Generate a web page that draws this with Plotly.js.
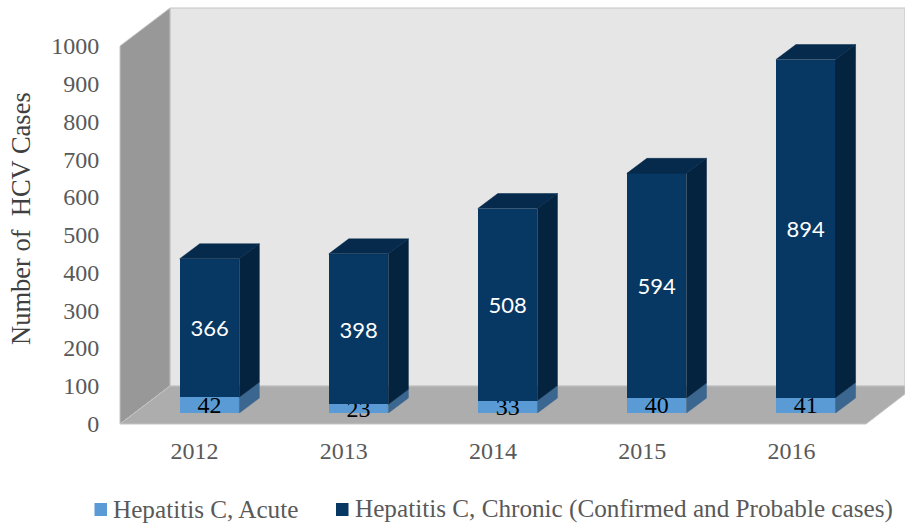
<!DOCTYPE html>
<html>
<head>
<meta charset="utf-8">
<script src="https://cdn.plot.ly/plotly-3.0.1.min.js"></script>
<style>html,body{margin:0;padding:0;background:#fff;}#chart{width:905px;height:525px;}</style>
</head>
<body>
<div id="chart"></div>
<script>
var years = [2012, 2013, 2014, 2015, 2016];
var acute = [42, 23, 33, 40, 41];
var chronic = [366, 398, 508, 594, 894];
var yTicks = [0, 100, 200, 300, 400, 500, 600, 700, 800, 900, 1000];
var seriesNames = ['Hepatitis C, Acute', 'Hepatitis C, Chronic (Confirmed and Probable cases)'];
var seriesColors = ['#5b9bd5', '#073763'];
var axisTitle = 'Number of\u00a0 HCV Cases';

var W = 905, H = 525;
var SERIF = '"Liberation Serif", serif';
var GREY = '#595959';
function px(x) { return x / W; }
function py(y) { return 1 - y / H; }
function path(pts) {
  return pts.map(function (p, i) { return (i ? 'L' : 'M') + px(p[0]) + ',' + py(p[1]); }).join(' ') + ' Z';
}
function wall(pts, color) {
  return { type: 'path', xref: 'paper', yref: 'paper', layer: 'below', path: path(pts),
           fillcolor: color, line: { color: '#c4c4c4', width: 1 } };
}
function swatch(x0, color) {
  return { type: 'rect', xref: 'paper', yref: 'paper', x0: px(x0), x1: px(x0 + 12.5), y0: py(516), y1: py(503),
           fillcolor: color, line: { width: 0 } };
}
function legendText(x0, text) {
  return { xref: 'paper', yref: 'paper', x: px(x0), y: py(509), xanchor: 'left', yanchor: 'middle', showarrow: false,
           borderpad: 0, text: text, font: { family: SERIF, size: 25.2, color: GREY } };
}

// box depth, in axis units of the bars' plane
var DX = 20 / 149.05, DY = 15 / 0.378, HALF = 0.2;
function face(x, base, top, kind, color) {
  var xs, ys;
  if (kind === 'side') {
    xs = [x + HALF, x + HALF + DX, x + HALF + DX, x + HALF, x + HALF];
    ys = [base, base + DY, top + DY, top, base];
  } else {
    xs = [x - HALF, x + HALF, x + HALF + DX, x - HALF + DX, x - HALF];
    ys = [top, top, top + DY, top + DY, top];
  }
  return { x: xs, y: ys, xaxis: 'x2', yaxis: 'y2', type: 'scatter', mode: 'lines', fill: 'toself',
           fillcolor: color, line: { color: color, width: 0.5 }, showlegend: false, hoverinfo: 'skip' };
}

var traces = [
  { x: years, y: yTicks.slice(0, years.length), xaxis: 'x', yaxis: 'y', type: 'scatter', mode: 'markers',
    marker: { opacity: 0 }, showlegend: false, hoverinfo: 'skip' },
  { name: seriesNames[0], x: years, y: acute, xaxis: 'x2', yaxis: 'y2', type: 'bar', width: 0.4, cliponaxis: false,
    marker: { color: seriesColors[0] }, text: acute.map(String), textposition: 'inside', insidetextanchor: 'middle',
    constraintext: 'none', textangle: 0, textfont: { family: SERIF, size: 24, color: '#000000' } },
  { name: seriesNames[1], x: years, y: chronic, xaxis: 'x2', yaxis: 'y2', type: 'bar', width: 0.4, cliponaxis: false,
    marker: { color: seriesColors[1] }, text: chronic.map(String), textposition: 'inside', insidetextanchor: 'middle',
    constraintext: 'none', textangle: 0, textfont: { family: 'Lato, sans-serif', size: 22, color: '#ffffff' } }
];
years.forEach(function (yr, i) {
  var a = acute[i], t = a + chronic[i];
  traces.push(face(yr, 0, a, 'side', '#3a668f'));
  traces.push(face(yr, a, t, 'side', '#04233f'));
  traces.push(face(yr, t, t, 'top', '#052a4c'));
});

var layout = {
  width: W, height: H, margin: { l: 0, r: 0, t: 0, b: 0 },
  paper_bgcolor: '#ffffff', plot_bgcolor: 'rgba(0,0,0,0)',
  barmode: 'stack', showlegend: false, hovermode: false,
  font: { family: SERIF, color: GREY },
  xaxis: { domain: [px(120), px(866)], range: [2011.5, 2016.5], tickvals: years, ticktext: years.map(String),
           showgrid: false, zeroline: false, showline: false, ticks: 'outside', ticklen: 6, tickcolor: 'rgba(0,0,0,0)',
           tickfont: { family: SERIF, size: 24, color: GREY }, anchor: 'y' },
  yaxis: { domain: [py(423.5), py(46)], range: [0, 1000], tickvals: yTicks, ticktext: yTicks.map(String),
           showgrid: false, zeroline: false, showline: false, ticks: 'outside', ticklen: 15, tickcolor: 'rgba(0,0,0,0)',
           tickfont: { family: SERIF, size: 24, color: GREY }, anchor: 'x' },
  xaxis2: { domain: [px(135), px(880.25)], range: [2011.5, 2016.5], visible: false, anchor: 'y2' },
  yaxis2: { domain: [py(413), py(35)], range: [0, 1000], visible: false, anchor: 'x2' },
  annotations: [
    { xref: 'paper', yref: 'paper', x: px(20.5), y: py(218.5), xanchor: 'center', yanchor: 'middle', showarrow: false,
      textangle: -90, text: axisTitle, font: { family: SERIF, size: 26.5, color: '#404040' } },
    legendText(112, seriesNames[0]),
    legendText(354, seriesNames[1])
  ],
  shapes: [
    wall([[170, 8], [905, 8], [905, 386], [170, 386]], '#e6e6e6'),
    wall([[120, 46], [170, 8], [170, 386], [120, 424]], '#989898'),
    wall([[120, 424], [170, 386], [905, 386], [905, 394], [866, 424]], '#adadad'),
    swatch(94.5, seriesColors[0]),
    swatch(336, seriesColors[1])
  ]
};

Plotly.newPlot('chart', traces, layout, { displayModeBar: false, staticPlot: true });
</script>
</body>
</html>
